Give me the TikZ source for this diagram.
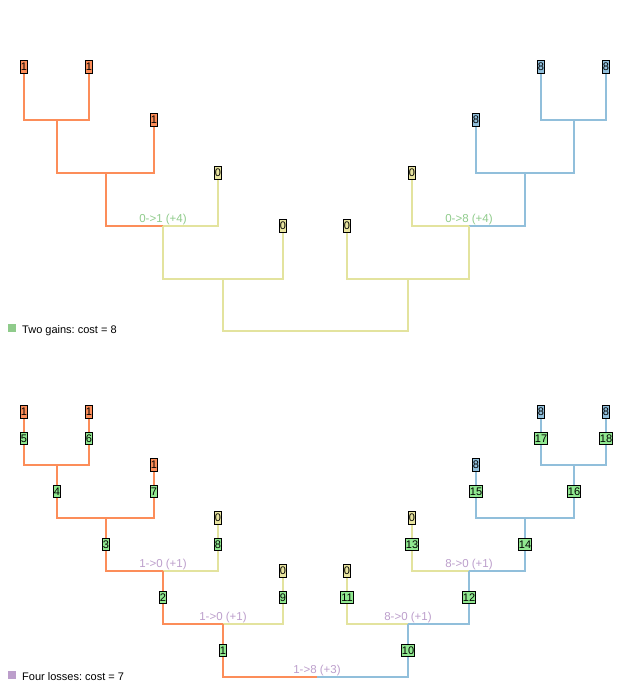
\documentclass[tikz,border=0pt]{standalone}
\usepackage{fontspec}
\setmainfont{Liberation Sans}
\frenchspacing
\definecolor{orq}{HTML}{FC8D59}
\definecolor{blq}{HTML}{91BFDB}
\definecolor{ylq}{HTML}{E3E39E}
\definecolor{ylbox}{HTML}{E8E4A0}
\definecolor{gnbox}{HTML}{90E890}
\definecolor{gaincol}{HTML}{8FCB8B}
\definecolor{losscol}{HTML}{BC9ECB}
\tikzset{
  box/.style={draw=black, line width=1.1pt, inner sep=0.5pt, minimum width=7.5pt, minimum height=12.5pt, font=\fontsize{11}{11}\selectfont},
  ob/.style={box, fill=orq},
  bb/.style={box, fill=blq},
  yb/.style={box, fill=ylbox},
  gb/.style={box, fill=gnbox},
  edge/.style={line width=2pt},
  lab/.style={font=\fontsize{11.5}{11.5}\selectfont, anchor=base, inner sep=0pt},
  legsq/.style={minimum size=8pt, inner sep=0pt},
  legtx/.style={font=\fontsize{11}{11}\selectfont, anchor=base west, inner sep=0pt, text=black}
}
\begin{document}
\begin{tikzpicture}[x=1pt,y=-1pt]
\useasboundingbox (0,0) rectangle (633,691);
% ---------------- top tree ----------------
\coordinate (ta1) at (24,67);
\coordinate (ta2) at (89,67);
\coordinate (ta3) at (154,120);
\coordinate (ta4) at (218,173);
\coordinate (ta5) at (283,226);
\coordinate (tj12) at (57,120);
\coordinate (tj123) at (106,173);
\coordinate (tj1234) at (163,226);
\coordinate (tj12345) at (223,279);
\coordinate (tb1) at (606,67);
\coordinate (tb2) at (541,67);
\coordinate (tb3) at (476,120);
\coordinate (tb4) at (412,173);
\coordinate (tb5) at (347,226);
\coordinate (tk12) at (574,120);
\coordinate (tk123) at (525,173);
\coordinate (tk1234) at (469,226);
\coordinate (tk12345) at (408,279);
\coordinate (troot) at (316,331);
\begin{scope}[edge]
\draw[orq] (ta1) |- (tj12);
\draw[orq] (ta2) |- (tj12);
\draw[orq] (tj12) |- (tj123);
\draw[orq] (ta3) |- (tj123);
\draw[orq] (tj123) |- (tj1234);
\draw[ylq] (ta4) |- (tj1234);
\draw[ylq] (tj1234) |- (tj12345);
\draw[ylq] (ta5) |- (tj12345);
\draw[ylq] (tj12345) |- (troot);
\draw[blq] (tb1) |- (tk12);
\draw[blq] (tb2) |- (tk12);
\draw[blq] (tk12) |- (tk123);
\draw[blq] (tb3) |- (tk123);
\draw[blq] (tk123) |- (tk1234);
\draw[ylq] (tb4) |- (tk1234);
\draw[ylq] (tk1234) |- (tk12345);
\draw[ylq] (tb5) |- (tk12345);
\draw[ylq] (tk12345) |- (troot);
\end{scope}
\node[ob] (ta1n) at (ta1) {1};
\node[ob] (ta2n) at (ta2) {1};
\node[ob] (ta3n) at (ta3) {1};
\node[yb] (ta4n) at (ta4) {0};
\node[yb] (ta5n) at (ta5) {0};
\node[bb] (tb1n) at (tb1) {8};
\node[bb] (tb2n) at (tb2) {8};
\node[bb] (tb3n) at (tb3) {8};
\node[yb] (tb4n) at (tb4) {0};
\node[yb] (tb5n) at (tb5) {0};
\node[lab, text=gaincol] (tlab1) at (163,222.5) {0->1 (+4)};
\node[lab, text=gaincol] (tlab2) at (469,222.5) {0->8 (+4)};
\node[legsq, fill=gaincol] (tleg) at (12,328) {};
\node[legtx] (tlegt) at (22,333.5) {Two gains: cost = 8};
% ---------------- bottom tree ----------------
\coordinate (ba1) at (24,412);
\coordinate (ba2) at (89,412);
\coordinate (ba3) at (154,465);
\coordinate (ba4) at (218,518);
\coordinate (ba5) at (283,571);
\coordinate (bj12) at (57,465);
\coordinate (bj123) at (106,518);
\coordinate (bj1234) at (163,571);
\coordinate (bj12345) at (223,624);
\coordinate (bb1) at (606,412);
\coordinate (bb2) at (541,412);
\coordinate (bb3) at (476,465);
\coordinate (bb4) at (412,518);
\coordinate (bb5) at (347,571);
\coordinate (bk12) at (574,465);
\coordinate (bk123) at (525,518);
\coordinate (bk1234) at (469,571);
\coordinate (bk12345) at (408,624);
\coordinate (broot) at (317,677);
\begin{scope}[edge]
\draw[orq] (ba1) |- (bj12);
\draw[orq] (ba2) |- (bj12);
\draw[orq] (bj12) |- (bj123);
\draw[orq] (ba3) |- (bj123);
\draw[orq] (bj123) |- (bj1234);
\draw[ylq] (ba4) |- (bj1234);
\draw[orq] (bj1234) |- (bj12345);
\draw[ylq] (ba5) |- (bj12345);
\draw[orq] (bj12345) |- (broot);
\draw[blq] (bb1) |- (bk12);
\draw[blq] (bb2) |- (bk12);
\draw[blq] (bk12) |- (bk123);
\draw[blq] (bb3) |- (bk123);
\draw[blq] (bk123) |- (bk1234);
\draw[ylq] (bb4) |- (bk1234);
\draw[blq] (bk1234) |- (bk12345);
\draw[ylq] (bb5) |- (bk12345);
\draw[blq] (bk12345) |- (broot);
\end{scope}
\node[ob] (ba1n) at (ba1) {1};
\node[ob] (ba2n) at (ba2) {1};
\node[ob] (ba3n) at (ba3) {1};
\node[yb] (ba4n) at (ba4) {0};
\node[yb] (ba5n) at (ba5) {0};
\node[bb] (bb1n) at (bb1) {8};
\node[bb] (bb2n) at (bb2) {8};
\node[bb] (bb3n) at (bb3) {8};
\node[yb] (bb4n) at (bb4) {0};
\node[yb] (bb5n) at (bb5) {0};
% numbered boxes
\node[gb] (g1) at (223,650.5) {1};
\node[gb] (g2) at (163,597.5) {2};
\node[gb] (g3) at (106,544.5) {3};
\node[gb] (g4) at (57,491.5) {4};
\node[gb] (g5) at (24,438.5) {5};
\node[gb] (g6) at (89,438.5) {6};
\node[gb] (g7) at (154,491.5) {7};
\node[gb] (g8) at (218,544.5) {8};
\node[gb] (g9) at (283,597.5) {9};
\node[gb] (g10) at (408,650.5) {10};
\node[gb] (g11) at (347,597.5) {11};
\node[gb] (g12) at (469,597.5) {12};
\node[gb] (g13) at (412,544.5) {13};
\node[gb] (g14) at (525,544.5) {14};
\node[gb] (g15) at (476,491.5) {15};
\node[gb] (g16) at (574,491.5) {16};
\node[gb] (g17) at (541,438.5) {17};
\node[gb] (g18) at (606,438.5) {18};
\node[lab, text=losscol] (blab1) at (163,567.5) {1->0 (+1)};
\node[lab, text=losscol] (blab2) at (223,620.5) {1->0 (+1)};
\node[lab, text=losscol] (blab3) at (317,673.5) {1->8 (+3)};
\node[lab, text=losscol] (blab4) at (469,567.5) {8->0 (+1)};
\node[lab, text=losscol] (blab5) at (408,620.5) {8->0 (+1)};
\node[legsq, fill=losscol] (bleg) at (12,675) {};
\node[legtx] (blegt) at (22,680.5) {Four losses: cost = 7};
\end{tikzpicture}
\end{document}
